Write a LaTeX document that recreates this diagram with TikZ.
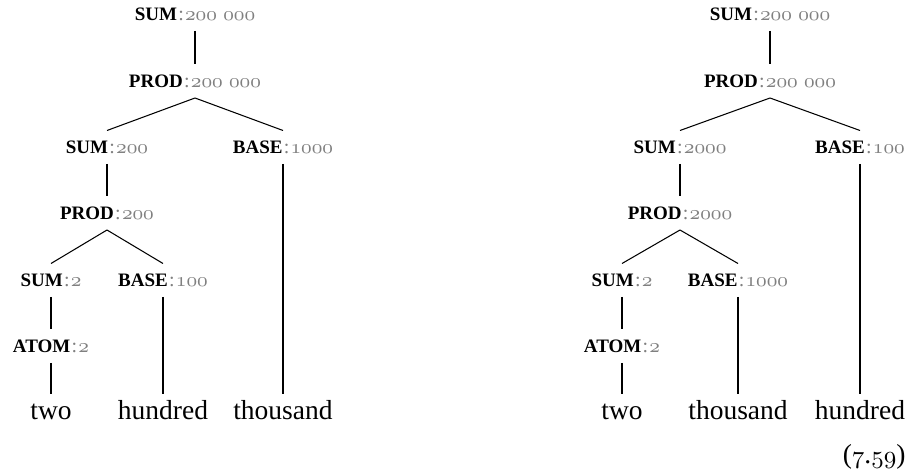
\documentclass[tikz,border=0pt]{standalone}
\usepackage{fontspec}
\setmainfont{Liberation Serif}
\newcommand{\osf}{\usefont{OML}{cmm}{m}{it}}
\newcommand{\lab}[2]{{\fontsize{7.6}{9}\selectfont\bfseries #1}{\color{black!50}\fontsize{8}{9}\selectfont\kern0.5pt:\kern0.5pt\osf #2}}
\newcommand{\gap}{\hspace{0.3em}}
\begin{document}
\begin{tikzpicture}[x=0.4pt,y=-0.4pt,
  lbl/.style={anchor=base,inner sep=0pt,text height=9.2pt,text depth=3.8pt},
  wrd/.style={anchor=base,inner sep=0pt,text height=10.2pt,text depth=2pt,font=\fontsize{11}{13}\selectfont},
  edge/.style={line width=0.42pt}]
\useasboundingbox (0,0) rectangle (906,471);
% left tree
\node[lbl] (a1) at (195,21) {\lab{SUM}{200\gap000}};
\node[lbl] (a2) at (195,88) {\lab{PROD}{200\gap000}};
\node[lbl] (a3) at (107,154) {\lab{SUM}{200}};
\node[lbl] (a4) at (283,154) {\lab{BASE}{1000}};
\node[lbl] (a5) at (107,220) {\lab{PROD}{200}};
\node[lbl] (a6) at (51,287) {\lab{SUM}{2}};
\node[lbl] (a7) at (163,287) {\lab{BASE}{100}};
\node[lbl] (a8) at (51,353) {\lab{ATOM}{2}};
\node[wrd] (w1) at (51,420) {two};
\node[wrd] (w2) at (163,420) {hundred};
\node[wrd] (w3) at (283,420) {thousand};
\draw[edge] (a1.south) -- (a2.north);
\draw[edge] (a2.south) -- (a3.north);
\draw[edge] (a2.south) -- (a4.north);
\draw[edge] (a3.south) -- (a5.north);
\draw[edge] (a5.south) -- (a6.north);
\draw[edge] (a5.south) -- (a7.north);
\draw[edge] (a6.south) -- (a8.north);
\draw[edge] (a8.south) -- (w1.north);
\draw[edge] (a7.south) -- (w2.north);
\draw[edge] (a4.south) -- (w3.north);
% right tree
\node[lbl] (b1) at (770,21) {\lab{SUM}{200\gap000}};
\node[lbl] (b2) at (770,88) {\lab{PROD}{200\gap000}};
\node[lbl] (b3) at (680,154) {\lab{SUM}{2000}};
\node[lbl] (b4) at (860,154) {\lab{BASE}{100}};
\node[lbl] (b5) at (680,220) {\lab{PROD}{2000}};
\node[lbl] (b6) at (622,287) {\lab{SUM}{2}};
\node[lbl] (b7) at (738,287) {\lab{BASE}{1000}};
\node[lbl] (b8) at (622,353) {\lab{ATOM}{2}};
\node[wrd] (v1) at (622,420) {two};
\node[wrd] (v2) at (738,420) {thousand};
\node[wrd] (v3) at (860,420) {hundred};
\draw[edge] (b1.south) -- (b2.north);
\draw[edge] (b2.south) -- (b3.north);
\draw[edge] (b2.south) -- (b4.north);
\draw[edge] (b3.south) -- (b5.north);
\draw[edge] (b5.south) -- (b6.north);
\draw[edge] (b5.south) -- (b7.north);
\draw[edge] (b6.south) -- (b8.north);
\draw[edge] (b8.south) -- (v1.north);
\draw[edge] (b7.south) -- (v2.north);
\draw[edge] (b4.south) -- (v3.north);
\node[anchor=base east,inner sep=0pt,font=\fontsize{11}{13}\selectfont] (eq) at (906,463) {({\fontsize{10}{12}\osf 7}.{\fontsize{10}{12}\osf 59})};
\end{tikzpicture}
\end{document}
